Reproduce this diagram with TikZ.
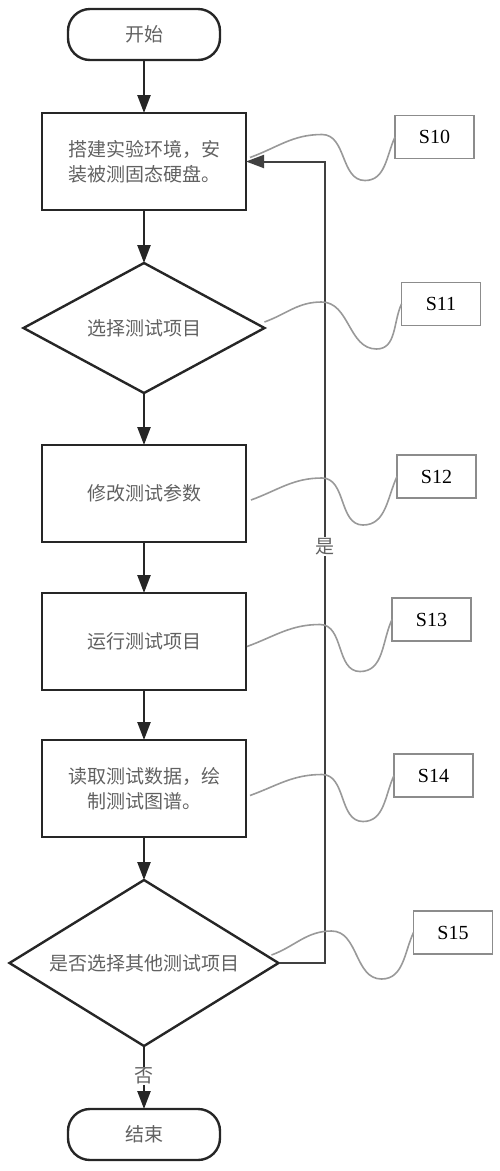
\documentclass[tikz,border=0pt]{standalone}
\usepackage{fontspec}
\setmainfont{Liberation Serif}
\newfontfamily\cjk{Noto Sans CJK SC}
\usetikzlibrary{arrows.meta,positioning,shapes.geometric}

\begin{document}
\begin{tikzpicture}[
  x=1pt, y=1pt,
  node distance=52pt,
  box/.style={draw=black!85, line width=2.4pt, outer sep=0pt, align=center, minimum width=204pt, minimum height=97pt, text=black!62, font=\cjk\fontsize{19}{25}\selectfont},
  term/.style={box, rounded corners=22pt, minimum width=152pt, minimum height=51pt},
  decide/.style={box, diamond, inner sep=0pt},
  tag/.style={draw=black!45, line width=1.6pt, outer sep=0pt, minimum width=79pt, minimum height=43pt, font=\fontsize{20}{22}\selectfont},
  arrow/.style={-{Triangle[length=18pt,width=13pt]}, line width=2.4pt, draw=black!85},
  back/.style={arrow, draw=black!75, line width=2pt},
  wave/.style={draw=black!40, line width=1.6pt},
  lbl/.style={fill=white, inner sep=1pt, text=black!62, font=\cjk\fontsize{19}{20}\selectfont}
]
\useasboundingbox (0,0) rectangle (500,-1171);

\node[term] (start) at (144,-34.5) {开始};
\node[box, below=53pt of start] (build) {搭建实验环境，安\\装被测固态硬盘。};
\node[decide, aspect=1.85, minimum width=241pt, minimum height=130pt, below=53pt of build] (pick) {选择测试项目};
\node[box, below=52pt of pick] (modify) {修改测试参数};
\node[box, below=51pt of modify] (run) {运行测试项目};
\node[box, below=50pt of run] (read) {读取测试数据，绘\\制测试图谱。};
\node[decide, aspect=1.62, minimum width=269pt, minimum height=166pt, below=43pt of read] (check) {是否选择其他测试项目};
\node[term, below=63pt of check] (finish) {结束};

% step tags
\node[tag, right=149pt of build, yshift=24.5pt] (s10) {S10};
\node[tag, right=137pt of pick, yshift=24pt] (s11) {S11};
\node[tag, right=151pt of modify, yshift=17pt] (s12) {S12};
\node[tag, right=146pt of run, yshift=22pt] (s13) {S13};
\node[tag, right=148pt of read, yshift=13pt] (s14) {S14};
\node[tag, right=135pt of check, yshift=30.5pt] (s15) {S15};

% Arrows
\draw[arrow] (start) -- (build);
\draw[arrow] (build) -- (pick);
\draw[arrow] (pick) -- (modify);
\draw[arrow] (modify) -- (run);
\draw[arrow] (run) -- (read);
\draw[arrow] (read) -- (check);
\draw[arrow] (check) -- node[lbl, pos=0.48] {否} (finish);
\draw[back] (check.east) -- ++(46,0) |- node[lbl, pos=0.26] {是} (build.east);

% tag leaders
\draw[wave] ([shift={(4,4)}]build.east) to[out=20,in=180] ++(72,23) to[out=0,in=180] ++(43,-46) to[out=0,in=-115] (s10.west);
\draw[wave] ([shift={(0,6)}]pick.east) to[out=20,in=180] ++(57,20) to[out=0,in=180] ++(55,-47) to[out=0,in=-115] (s11.west);
\draw[wave] ([shift={(5,-6.5)}]modify.east) to[out=20,in=180] ++(71,22) to[out=0,in=180] ++(41,-47) to[out=0,in=-115] (s12.west);
\draw[wave] ([shift={(1,-5)}]run.east) to[out=20,in=180] ++(73,22) to[out=0,in=180] ++(40,-47) to[out=0,in=-115] (s13.west);
\draw[wave] ([shift={(4,-7)}]read.east) to[out=20,in=180] ++(72,21) to[out=0,in=180] ++(41,-47) to[out=0,in=-115] (s14.west);
\draw[wave] ([shift={(-7,8)}]check.east) to[out=20,in=180] ++(60,24) to[out=0,in=180] ++(50,-48) to[out=0,in=-115] (s15.west);

\end{tikzpicture}
\end{document}
